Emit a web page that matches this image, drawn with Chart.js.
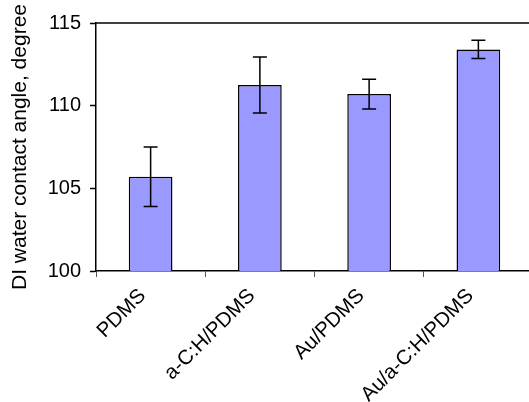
<!DOCTYPE html>
<html>
<head>
<meta charset="utf-8">
<script src="https://cdn.jsdelivr.net/npm/chart.js@4/dist/chart.umd.min.js"></script>
<style>
  html, body { margin: 0; padding: 0; background: #fff; overflow: hidden; }
  #wrap { width: 540px; height: 402px; }
</style>
</head>
<body>
<div id="wrap"><canvas id="angleChart" width="540" height="402"></canvas></div>
<script>
// contact angle data
const samples = ['PDMS', 'a-C:H/PDMS', 'Au/PDMS', 'Au/a-C:H/PDMS'];
const angles = [105.7, 111.25, 110.7, 113.4];
const errors = [1.8, 1.7, 0.9, 0.55];
const yTicks = [100, 105, 110, 115];

const FONT = 'Liberation Sans, Arial, sans-serif';

// error bars drawn on top of the bars
const errorBars = {
  id: 'errorBars',
  afterDatasetsDraw(chart) {
    const ctx = chart.ctx;
    const y = chart.scales.y;
    const meta = chart.getDatasetMeta(0);
    ctx.save();
    ctx.strokeStyle = '#000';
    ctx.lineWidth = 1.5;
    meta.data.forEach((bar, i) => {
      const hi = y.getPixelForValue(angles[i] + errors[i]);
      const lo = y.getPixelForValue(angles[i] - errors[i]);
      ctx.beginPath();
      ctx.moveTo(bar.x, hi); ctx.lineTo(bar.x, lo);
      ctx.moveTo(bar.x - 7, hi); ctx.lineTo(bar.x + 7, hi);
      ctx.moveTo(bar.x - 7, lo); ctx.lineTo(bar.x + 7, lo);
      ctx.stroke();
    });
    ctx.restore();
  }
};

// top frame line of the plot area
const topLine = {
  id: 'topLine',
  afterDraw(chart) {
    const a = chart.chartArea;
    const ctx = chart.ctx;
    ctx.save();
    ctx.strokeStyle = '#000';
    ctx.lineWidth = 1.5;
    ctx.beginPath();
    ctx.moveTo(a.left, a.top);
    ctx.lineTo(chart.width, a.top);
    ctx.stroke();
    ctx.restore();
  }
};

new Chart(document.getElementById('angleChart'), {
  type: 'bar',
  data: {
    labels: samples,
    datasets: [{
      data: angles,
      backgroundColor: '#9999ff',
      borderColor: '#000',
      borderWidth: 1.5,
      categoryPercentage: 1,
      barPercentage: 0.4
    }]
  },
  options: {
    responsive: false,
    animation: false,
    layout: { padding: { top: 23, right: 7, left: 0, bottom: 0 } },
    plugins: { legend: { display: false }, tooltip: { enabled: false } },
    scales: {
      x: {
        afterFit: s => { s.height = 131; },
        grid: { drawOnChartArea: false, offset: true, color: '#555', tickLength: 6, tickWidth: 1 },
        border: { color: '#000', width: 1.5 },
        ticks: {
          color: '#000', maxRotation: 45, minRotation: 45, padding: 7, labelOffset: -8,
          font: { family: FONT, size: 20.5 }
        }
      },
      y: {
        min: 100, max: 115,
        afterFit: s => { s.width = 96; },
        afterBuildTicks: s => { s.ticks = yTicks.map(v => ({ value: v })); },
        grid: { drawOnChartArea: false, color: '#000', tickLength: 6, tickWidth: 1.5 },
        border: { color: '#000', width: 1.5 },
        ticks: { color: '#000', padding: 9, font: { family: FONT, size: 20 } },
        title: {
          display: true, text: 'DI water contact angle, degree', color: '#000',
          padding: { top: 8, bottom: 0 },
          font: { family: FONT, size: 21 }
        }
      }
    }
  },
  plugins: [errorBars, topLine]
});
</script>
</body>
</html>
